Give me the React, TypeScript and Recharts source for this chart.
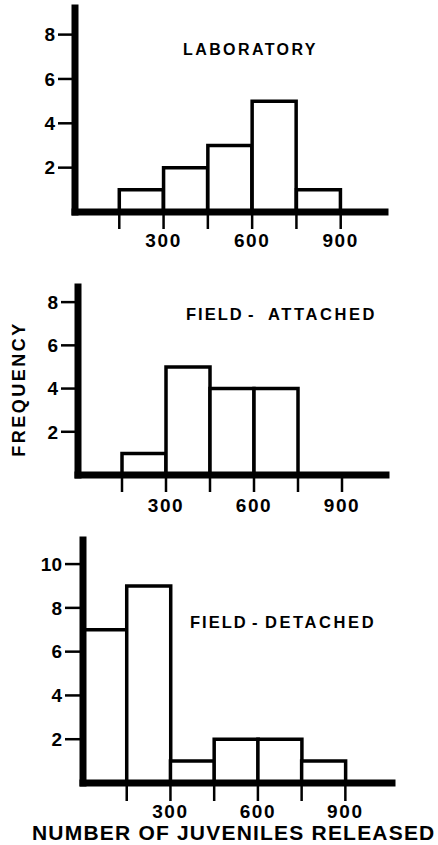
import React from 'react';
import { BarChart, Bar, XAxis, YAxis } from 'recharts';

// Bin midpoints (bins of width 150: 0-150, 150-300, ... 750-900)
const binMids = [75, 225, 375, 525, 675, 825];
const labCounts = [0, 1, 2, 3, 5, 1];
const attachedCounts = [0, 1, 5, 4, 4, 0];
const detachedCounts = [7, 9, 1, 2, 2, 1];

const xTicks = [150, 300, 450, 600, 750, 900];
const xLabelled = [300, 600, 900];
const yTicksSmall = [2, 4, 6, 8];
const yTicksLarge = [2, 4, 6, 8, 10];

const FONT = '"Liberation Sans", Arial, Helvetica, sans-serif';

type PanelProps = {
  counts: number[];
  chartTop: number;
  plotTop: number;
  zeroY: number;
  plotLeft: number;
  plotRight: number;
  yMax: number;
  xMax: number;
  yTicks: number[];
  yTickSize: number;
  xTickSize: number;
  xTickMargin: number;
};

function Panel(p: PanelProps) {
  const data = binMids.map((m, i) => ({ mid: m, count: p.counts[i] }));
  const xAxisH = 42;
  const height = p.zeroY + xAxisH - p.chartTop;
  return (
    <div style={{ position: 'absolute', left: 0, top: p.chartTop, width: 438, height }}>
      <BarChart
        width={438}
        height={height}
        data={data}
        barCategoryGap={0}
        barGap={0}
        margin={{ top: p.plotTop - p.chartTop, right: 438 - p.plotRight, bottom: 0, left: 0 }}
      >
        <XAxis
          type="number"
          dataKey="mid"
          domain={[0, p.xMax]}
          ticks={xTicks}
          interval={0}
          height={xAxisH}
          tickSize={p.xTickSize}
          tickMargin={p.xTickMargin}
          axisLine={{ stroke: '#000', strokeWidth: 7, strokeLinecap: 'square' }}
          tickLine={{ stroke: '#000', strokeWidth: 2.5 }}
          tickFormatter={(v: number) => (xLabelled.includes(v) ? String(v) : '')}
          tick={{ fill: '#000', fontSize: 19, fontWeight: 'bold', fontFamily: FONT, letterSpacing: 1.6 }}
        />
        <YAxis
          type="number"
          domain={[0, p.yMax]}
          allowDataOverflow
          ticks={p.yTicks}
          interval={0}
          width={p.plotLeft}
          tickSize={p.yTickSize}
          tickMargin={3}
          axisLine={{ stroke: '#000', strokeWidth: 7, strokeLinecap: 'square' }}
          tickLine={{ stroke: '#000', strokeWidth: 2.5 }}
          tick={{ fill: '#000', fontSize: 19, fontWeight: 'bold', fontFamily: FONT }}
        />
        <Bar dataKey="count" fill="#fff" stroke="#000" strokeWidth={3.5} isAnimationActive={false} />
      </BarChart>
    </div>
  );
}

export default function App() {
  const titleStyle = { fontFamily: FONT, fontWeight: 'bold' as const, fill: '#000' };
  return (
    <div style={{ position: 'absolute', left: 0, top: 0, width: 438, height: 845, background: '#fff', overflow: 'hidden' }}>
      <Panel counts={labCounts} chartTop={0} plotTop={8} zeroY={212} plotLeft={75} plotRight={385}
        yMax={9.2} xMax={1050} yTicks={yTicksSmall} yTickSize={17} xTickSize={17} xTickMargin={5} />
      <Panel counts={attachedCounts} chartTop={260} plotTop={287} zeroY={475} plotLeft={78} plotRight={386}
        yMax={8.7} xMax={1050} yTicks={yTicksSmall} yTickSize={17} xTickSize={17} xTickMargin={7} />
      <Panel counts={detachedCounts} chartTop={530} plotTop={540} zeroY={783} plotLeft={83} plotRight={392}
        yMax={11.1} xMax={1060} yTicks={yTicksLarge} yTickSize={18} xTickSize={18} xTickMargin={4} />
      <svg width={438} height={845} style={{ position: 'absolute', left: 0, top: 0, pointerEvents: 'none' }}>
        <text x={183} y={55} fontSize={16} letterSpacing={2.4} {...titleStyle}>LABORATORY</text>
        <text x={186} y={320} fontSize={16.5} letterSpacing={2} {...titleStyle}>FIELD</text>
        <text x={248} y={320} fontSize={16.5} {...titleStyle}>-</text>
        <text x={268} y={320} fontSize={16.5} letterSpacing={2.6} {...titleStyle}>ATTACHED</text>
        <text x={190} y={628} fontSize={16.5} letterSpacing={2} {...titleStyle}>FIELD</text>
        <text x={252} y={628} fontSize={16.5} {...titleStyle}>-</text>
        <text x={265} y={628} fontSize={16.5} letterSpacing={2.6} {...titleStyle}>DETACHED</text>
        <text x={25} y={389} fontSize={18} letterSpacing={2.5} textAnchor="middle"
          transform="rotate(-90, 25, 389)" {...titleStyle}>FREQUENCY</text>
        <text x={32} y={840} fontSize={21} letterSpacing={1.2} {...titleStyle}>NUMBER OF JUVENILES RELEASED</text>
      </svg>
    </div>
  );
}
